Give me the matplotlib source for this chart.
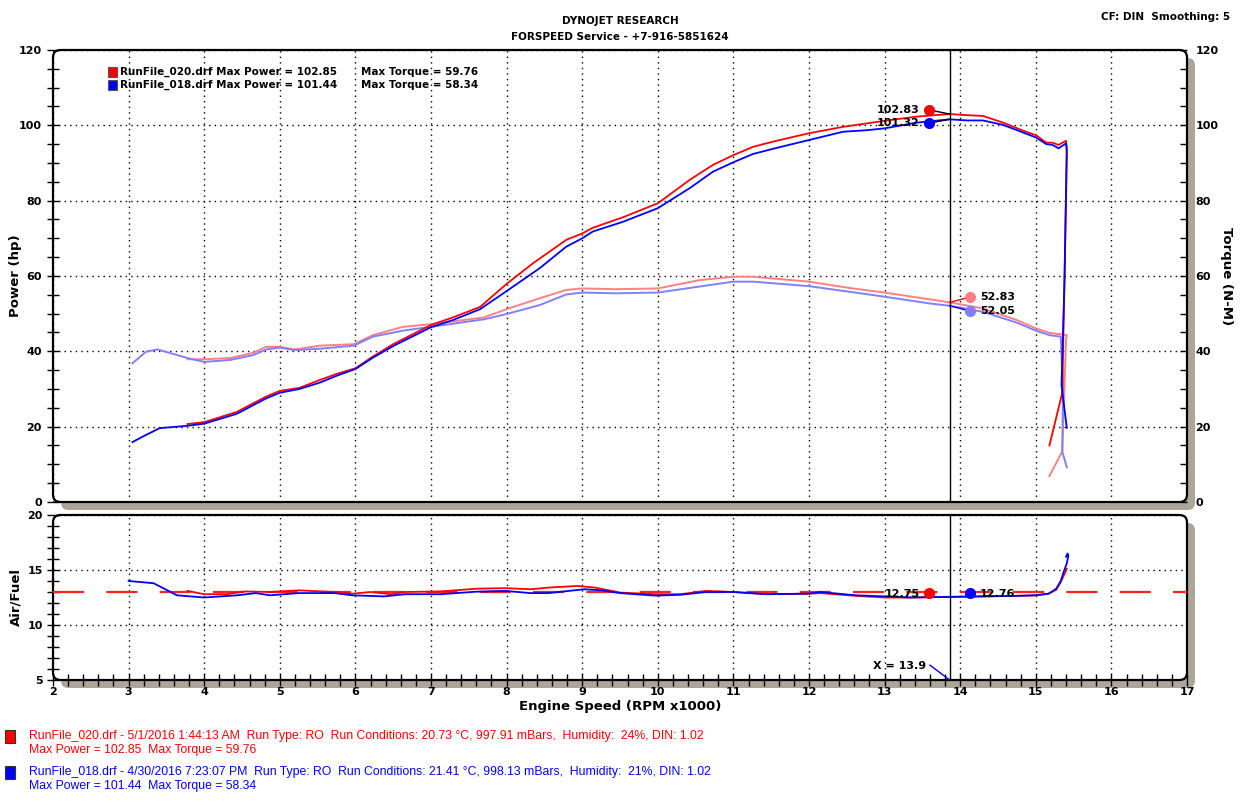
import matplotlib
matplotlib.use('Agg')
import matplotlib.pyplot as plt
from matplotlib.patches import FancyBboxPatch, Rectangle
from matplotlib.ticker import MultipleLocator

# ---- data ----
# RunFile_020 (red) power, hp
red_pw_rpm = [3.78, 4.0, 4.43, 4.82, 5.0, 5.26, 5.53, 5.75, 6.0, 6.23, 6.5, 7.0, 7.29, 7.65, 8.0,
              8.35, 8.79, 9.0, 9.14, 9.54, 10.0, 10.42, 10.73, 11.0, 11.26, 11.57, 12.0, 12.45,
              12.76, 13.0, 13.42, 13.86, 14.09, 14.3, 14.57, 14.83, 15.0, 15.14, 15.22, 15.3,
              15.4, 15.41, 15.38, 15.35, 15.18]
red_pw = [20.7, 21.2, 23.9, 28.0, 29.5, 30.3, 32.4, 34.0, 35.5, 38.6, 41.9, 47.0, 49.0, 51.8, 57.9,
          63.4, 69.6, 71.3, 72.8, 75.6, 79.3, 85.5, 89.5, 92.1, 94.3, 95.9, 97.9, 99.6,
          100.5, 101.2, 102.3, 103.0, 102.7, 102.5, 100.7, 98.6, 97.4, 95.4, 95.4, 94.8,
          95.9, 94.0, 60.0, 29.0, 15.0]

# RunFile_018 (blue) power, hp
blue_pw_rpm = [3.05, 3.2, 3.41, 3.76, 4.0, 4.43, 4.82, 5.0, 5.26, 5.53, 5.75, 6.0, 6.23, 6.5, 7.0,
               7.29, 7.65, 8.0, 8.44, 8.79, 9.0, 9.14, 9.54, 10.0, 10.42, 10.73, 11.0, 11.26,
               11.57, 12.0, 12.45, 12.76, 13.0, 13.42, 13.86, 14.09, 14.3, 14.57, 14.83, 15.0,
               15.14, 15.22, 15.3, 15.4, 15.41, 15.38, 15.34, 15.41]
blue_pw = [15.9, 17.5, 19.6, 20.2, 20.8, 23.4, 27.5, 29.0, 30.0, 31.7, 33.5, 35.3, 38.3, 41.4, 46.4,
           48.3, 51.2, 56.0, 62.1, 67.8, 70.0, 71.8, 74.4, 78.0, 83.3, 87.7, 90.2, 92.4,
           94.0, 96.1, 98.3, 98.7, 99.2, 100.7, 101.6, 101.3, 101.3, 100.1, 98.1, 96.8,
           95.0, 94.8, 93.9, 95.2, 93.0, 59.0, 31.0, 19.7]

# torque, N-M
red_tq_rpm = [3.78, 4.0, 4.34, 4.65, 4.82, 5.0, 5.2, 5.53, 5.98, 6.23, 6.63, 7.0, 7.7, 8.0, 8.44,
              8.79, 9.0, 9.45, 10.0, 10.55, 11.0, 11.26, 12.0, 12.54, 13.0, 13.6, 13.86, 14.3,
              14.75, 15.0, 15.18, 15.3, 15.41, 15.40, 15.37, 15.35, 15.18]
red_tq = [37.9, 37.9, 38.2, 39.6, 41.2, 41.2, 40.5, 41.5, 41.9, 44.3, 46.5, 47.2, 49.0, 51.2, 54.1,
          56.3, 56.7, 56.5, 56.7, 58.9, 59.8, 59.8, 58.5, 56.8, 55.6, 53.8, 53.0, 51.4,
          48.3, 46.1, 44.9, 44.6, 44.3, 43.0, 25.0, 13.4, 6.9]

blue_tq_rpm = [3.05, 3.23, 3.38, 3.54, 3.8, 4.0, 4.34, 4.65, 4.82, 5.0, 5.2, 5.53, 5.98, 6.23, 6.63,
               7.0, 7.7, 8.0, 8.44, 8.79, 9.0, 9.45, 10.0, 10.55, 11.0, 11.26, 12.0, 12.54, 13.0,
               13.6, 13.86, 14.3, 14.75, 15.0, 15.18, 15.33, 15.36, 15.35, 15.41]
blue_tq = [36.8, 39.9, 40.5, 39.6, 38.1, 37.2, 37.7, 39.0, 40.5, 41.0, 40.3, 40.7, 41.5, 43.9, 45.5,
           46.5, 48.5, 49.9, 52.3, 55.1, 55.6, 55.4, 55.6, 57.2, 58.5, 58.5, 57.3, 55.8, 54.5,
           52.7, 52.1, 50.5, 47.6, 45.5, 44.3, 43.9, 30.0, 13.4, 9.2]

# air / fuel
red_af_rpm = [3.78, 4.0, 4.3, 4.54, 4.87, 5.25, 5.72, 5.96, 6.2, 6.47, 6.66, 7.13, 7.6, 7.98, 8.32,
              8.55, 8.93, 9.17, 9.5, 9.97, 10.3, 10.64, 11.0, 11.44, 12.0, 12.15, 12.62, 13.0,
              13.33, 13.8, 14.28, 14.75, 15.0, 15.17, 15.27, 15.33, 15.37, 15.41]
red_af = [13.1, 12.8, 12.8, 13.05, 13.0, 13.15, 13.0, 12.85, 13.0, 12.8, 13.0, 13.05, 13.3, 13.35,
          13.25, 13.4, 13.55, 13.4, 12.95, 12.8, 12.8, 13.1, 13.0, 12.8, 12.85, 12.9, 12.65, 12.5,
          12.5, 12.55, 12.6, 12.65, 12.7, 12.85, 13.2, 13.9, 14.5, 15.1]

blue_af_rpm = [3.0, 3.33, 3.5, 3.64, 4.0, 4.44, 4.68, 4.87, 5.25, 5.72, 5.96, 6.38, 6.66, 7.13, 7.6,
               7.98, 8.32, 8.55, 9.03, 9.26, 9.5, 9.97, 10.3, 10.64, 11.0, 11.44, 12.0, 12.15,
               12.62, 13.0, 13.33, 13.8, 14.28, 14.75, 15.0, 15.17, 15.27, 15.33, 15.37, 15.41,
               15.43, 15.42, 15.40]
blue_af = [14.0, 13.8, 13.2, 12.7, 12.5, 12.7, 12.9, 12.7, 12.9, 12.9, 12.7, 12.6, 12.8, 12.8, 13.03,
           13.1, 12.9, 12.9, 13.25, 13.15, 12.9, 12.67, 12.75, 13.0, 13.0, 12.8, 12.85, 13.0,
           12.7, 12.6, 12.5, 12.55, 12.6, 12.65, 12.7, 12.85, 13.3, 14.0, 14.85, 15.6,
           16.3, 16.5, 16.2]

af_target = 13.0
cursor_rpm = 13.86
cursor_vals = {'pw': (102.83, 101.32), 'tq': (52.83, 52.05), 'af': (12.75, 12.76)}

RED, BLUE = '#ff0000', '#0000ff'
LRED, LBLUE = '#ff8080', '#8080ff'

W, H = 1247, 805
fig = plt.figure(figsize=(W / 100, H / 100), dpi=100)
fig.patch.set_facecolor('white')


def frac(x0, y0, x1, y1):
    # pixel box (origin top-left) -> figure fraction rect
    return [x0 / W, 1 - y1 / H, (x1 - x0) / W, (y1 - y0) / H]


def fx(px):
    return px / W


def fy(py):
    return 1 - py / H


def frame(x0, y0, x1, y1):
    sh = FancyBboxPatch((fx(x0 + 8), fy(y1 + 8)), fx(x1 - x0), (y1 - y0) / H,
                        boxstyle='round,pad=0,rounding_size=0.006', mutation_aspect=W / H,
                        transform=fig.transFigure, facecolor='#aaa698', edgecolor='none', zorder=-3)
    bx = FancyBboxPatch((fx(x0), fy(y1)), fx(x1 - x0), (y1 - y0) / H,
                        boxstyle='round,pad=0,rounding_size=0.006', mutation_aspect=W / H,
                        transform=fig.transFigure, facecolor='white', edgecolor='black',
                        linewidth=1.6, zorder=-2)
    fig.add_artist(sh)
    fig.add_artist(bx)


frame(53, 50, 1187, 502)
frame(53, 515, 1187, 680)

grid_kw = dict(color='black', linestyle=(0, (1, 3)), linewidth=1.0)
tick_font = dict(fontsize=8, fontweight='bold')

# ---- power / torque panel ----
ax = fig.add_axes(frac(53, 50, 1187, 502))
ax.set_facecolor('none')
for s in ax.spines.values():
    s.set_visible(False)
ax.set_xlim(2, 17)
ax.set_ylim(0, 120)
ax.xaxis.set_major_locator(MultipleLocator(1))
ax.yaxis.set_major_locator(MultipleLocator(20))
ax.yaxis.set_minor_locator(MultipleLocator(5))
ax.grid(True, **grid_kw)
ax.tick_params(axis='x', length=0, labelbottom=False)
ax.tick_params(axis='y', which='both', direction='inout', length=8, width=1, pad=4)
for lb in ax.get_yticklabels():
    lb.set_fontweight('bold')
    lb.set_fontsize(8)

axr = ax.twinx()
for s in axr.spines.values():
    s.set_visible(False)
axr.set_ylim(0, 120)
axr.yaxis.set_major_locator(MultipleLocator(20))
axr.yaxis.set_minor_locator(MultipleLocator(5))
axr.tick_params(axis='y', which='both', direction='in', length=5, width=1, pad=6)
for lb in axr.get_yticklabels():
    lb.set_fontweight('bold')
    lb.set_fontsize(8)

ax.plot(red_tq_rpm, red_tq, color=LRED, lw=1.4)
ax.plot(blue_tq_rpm, blue_tq, color=LBLUE, lw=1.4)
ax.plot(red_pw_rpm, red_pw, color=RED, lw=1.3)
ax.plot(blue_pw_rpm, blue_pw, color=BLUE, lw=1.3)
ax.axvline(cursor_rpm, color='black', lw=1)

# cursor callouts (power left, torque right)
pw_r, pw_b = cursor_vals['pw']
tq_r, tq_b = cursor_vals['tq']
ax.plot([cursor_rpm - 0.27, cursor_rpm], [104.1, 103.0], color='black', lw=1)
ax.plot([cursor_rpm - 0.27, cursor_rpm], [100.6, 101.6], color='black', lw=1)
ax.plot(cursor_rpm - 0.27, 104.1, 'o', color=RED, ms=7)
ax.plot(cursor_rpm - 0.27, 100.6, 'o', color=BLUE, ms=7)
ax.text(cursor_rpm - 0.4, 104.1, f'{pw_r:.2f}', ha='right', va='center', **tick_font)
ax.text(cursor_rpm - 0.4, 100.6, f'{pw_b:.2f}', ha='right', va='center', **tick_font)
ax.plot([cursor_rpm, cursor_rpm + 0.27], [53.0, 54.4], color=RED, lw=1)
ax.plot([cursor_rpm, cursor_rpm + 0.27], [52.1, 50.7], color=BLUE, lw=1)
ax.plot(cursor_rpm + 0.27, 54.4, 'o', color=LRED, ms=7)
ax.plot(cursor_rpm + 0.27, 50.7, 'o', color=LBLUE, ms=7)
ax.text(cursor_rpm + 0.4, 54.4, f'{tq_r:.2f}', ha='left', va='center', **tick_font)
ax.text(cursor_rpm + 0.4, 50.7, f'{tq_b:.2f}', ha='left', va='center', **tick_font)

# ---- air / fuel panel ----
ax2 = fig.add_axes(frac(53, 515, 1187, 680))
ax2.set_facecolor('none')
for s in ax2.spines.values():
    s.set_visible(False)
ax2.set_xlim(2, 17)
ax2.set_ylim(5, 20)
ax2.xaxis.set_major_locator(MultipleLocator(1))
ax2.xaxis.set_minor_locator(MultipleLocator(0.2))
ax2.yaxis.set_major_locator(MultipleLocator(5))
ax2.yaxis.set_minor_locator(MultipleLocator(1))
ax2.grid(True, **grid_kw)
ax2.tick_params(axis='both', which='both', direction='inout', length=8, width=1)
ax2.tick_params(axis='x', pad=1)
for lb in ax2.get_xticklabels() + ax2.get_yticklabels():
    lb.set_fontweight('bold')
    lb.set_fontsize(8)

ax2.axhline(af_target, color='#ff2020', lw=1.6, dashes=(14, 10))
ax2.plot(red_af_rpm, red_af, color=RED, lw=1.3)
ax2.plot(blue_af_rpm, blue_af, color=BLUE, lw=1.3)
ax2.axvline(cursor_rpm, color='black', lw=1)
af_r, af_b = cursor_vals['af']
ax2.plot(cursor_rpm - 0.27, 12.9, 'o', color=RED, ms=7)
ax2.plot(cursor_rpm + 0.27, 12.9, 'o', color=BLUE, ms=7)
ax2.text(cursor_rpm - 0.4, 12.8, f'{af_r:.2f}', ha='right', va='center', **tick_font)
ax2.text(cursor_rpm + 0.4, 12.8, f'{af_b:.2f}', ha='left', va='center', **tick_font)
ax2.plot([13.6, cursor_rpm], [6.35, 5.0], color=BLUE, lw=1)
ax2.text(13.55, 6.3, 'X = 13.9', ha='right', va='center', **tick_font)

# ---- axis labels and headings ----
fig.text(fx(16), fy(276), 'Power (hp)', rotation=90, ha='center', va='center',
         fontsize=9.5, fontweight='bold')
fig.text(fx(1226), fy(276), 'Torque (N-M)', rotation=-90, ha='center', va='center',
         fontsize=9.5, fontweight='bold')
fig.text(fx(16), fy(597), 'Air/Fuel', rotation=90, ha='center', va='center',
         fontsize=9.5, fontweight='bold')
fig.text(fx(620), fy(706), 'Engine Speed (RPM x1000)', ha='center', va='center',
         fontsize=9.5, fontweight='bold')
fig.text(fx(620), fy(21), 'DYNOJET RESEARCH', ha='center', va='center',
         fontsize=7.5, fontweight='bold')
fig.text(fx(620), fy(37), 'FORSPEED Service - +7-916-5851624', ha='center', va='center',
         fontsize=7.5, fontweight='bold')
fig.text(fx(1230), fy(17), 'CF: DIN  Smoothing: 5', ha='right', va='center',
         fontsize=7.5, fontweight='bold')

# in-chart legend
leg_rows = [(RED, 'RunFile_020.drf Max Power = 102.85', 'Max Torque = 59.76', 72),
            (BLUE, 'RunFile_018.drf Max Power = 101.44', 'Max Torque = 58.34', 85)]
for col, t1, t2, py in leg_rows:
    fig.add_artist(Rectangle((fx(108), fy(py + 5)), 9 / W, 10 / H, transform=fig.transFigure,
                             facecolor=col, edgecolor='#555555', lw=0.8))
    fig.text(fx(120), fy(py), t1, ha='left', va='center', fontsize=7.5, fontweight='bold')
    fig.text(fx(361), fy(py), t2, ha='left', va='center', fontsize=7.5, fontweight='bold')

# run info footer
foot = [(RED, 736, 'RunFile_020.drf - 5/1/2016 1:44:13 AM  Run Type: RO  Run Conditions: 20.73 \u00b0C, '
                   '997.91 mBars,  Humidity:  24%, DIN: 1.02',
         'Max Power = 102.85  Max Torque = 59.76'),
        (BLUE, 772, 'RunFile_018.drf - 4/30/2016 7:23:07 PM  Run Type: RO  Run Conditions: 21.41 \u00b0C, '
                    '998.13 mBars,  Humidity:  21%, DIN: 1.02',
         'Max Power = 101.44  Max Torque = 58.34')]
for col, py, l1, l2 in foot:
    fig.add_artist(Rectangle((fx(5), fy(py + 7)), 10 / W, 13 / H, transform=fig.transFigure,
                             facecolor=col, edgecolor='#333333', lw=0.8))
    fig.text(fx(29), fy(py), l1, ha='left', va='center', color=col, fontsize=8.8,
             family='Liberation Sans')
    fig.text(fx(29), fy(py + 14), l2, ha='left', va='center', color=col, fontsize=8.8,
             family='Liberation Sans')

fig.savefig('out.png', dpi=100)
